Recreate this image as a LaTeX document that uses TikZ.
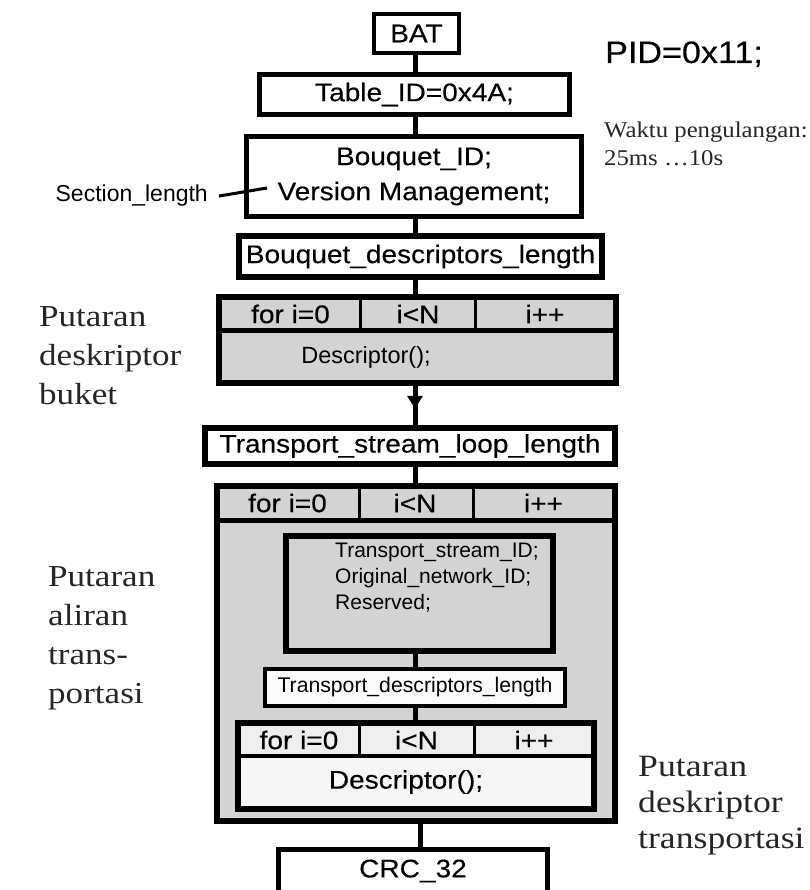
\documentclass[tikz,border=0pt]{standalone}
\usepackage{fontspec}
\usetikzlibrary{arrows.meta,decorations.markings}

% Arial-like faces (slightly widened) and Times-like faces for the notes
\newfontfamily\sanswide[FakeStretch=1.1,FakeBold=0.3]{Liberation Sans}
\newfontfamily\sansplain{Liberation Sans}
\newfontfamily\serifwide[FakeStretch=1.15]{Liberation Serif}
\newfontfamily\serifnote[FakeStretch=1.1]{Liberation Serif}

\definecolor{loopgray}{RGB}{211,211,211}
\definecolor{celllight}{RGB}{238,238,238}
\definecolor{rowlight}{RGB}{246,246,246}
\definecolor{boxlight}{RGB}{251,251,251}
\definecolor{notegray}{RGB}{38,38,38}

\begin{document}
\begin{tikzpicture}[x=1pt,y=-1pt,
  box/.style={draw=black, fill=white, inner sep=0pt, line width=#1},
  box/.default=5pt,
  frame/.style={draw=black, fill=loopgray, inner sep=0pt, outer sep=0pt, line width=#1},
  frame/.default=6pt,
  bigtext/.style={font=\sanswide\fontsize{25.5}{35}\selectfont},
  bodytext/.style={font=\sansplain\fontsize{23.5}{28}\selectfont},
  smalltext/.style={font=\sansplain\fontsize{21}{26}\selectfont},
  divider/.style={draw=black, line width=3pt},
  headsep/.style={draw=black, line width=5pt},
  link/.style={draw=black, line width=5pt},
  flowarrow/.style={postaction={decorate, decoration={markings,
      mark=at position 0.615 with {\arrow{Triangle[length=13pt,width=15pt]}}}}},
  sidenote/.style={font=\serifwide\fontsize{30.5}{39}\selectfont, text=notegray,
      align=left, inner sep=0pt, anchor=north west},
]
\useasboundingbox (0,0) rectangle (809,890);
\clip (0,0) rectangle (809,890);

\coordinate (spine) at (415,0);
\coordinate (crcspine) at (420,0);

% ---- header boxes ----
\node[box=4pt, minimum width=85pt, minimum height=39pt, bigtext] (bat) at (416.5,33.5) {BAT};
\node[box=5pt, minimum width=310pt, minimum height=40pt, bigtext] (tid) at (414.5,94.5) {Table\_ID=0x4A;};
\node[box=5pt, minimum width=335pt, minimum height=80pt, bigtext, align=center] (bqid) at (414,176.5)
  {Bouquet\_ID;\\Version Management;};
\node[box=6pt, minimum width=363pt, minimum height=41pt, bigtext] (bdl) at (420.5,256.5)
  {Bouquet\_descriptors\_length};

% ---- bouquet descriptor loop ----
\node[frame, minimum width=397pt, minimum height=86pt] (loopa) at (417.5,340) {};
\draw[headsep] (219,330.5) -- (616,330.5);
\draw[divider] (360.5,297) -- (360.5,330.5);
\draw[divider] (475.5,297) -- (475.5,330.5);
\node[bigtext] (la-init) at (290.5,314) {for i=0};
\node[bigtext] (la-cond) at (418,314) {i<N};
\node[bigtext] (la-step) at (545,314) {i++};
\node[bodytext] (la-body) at (366,357.5) {Descriptor();};

\node[box=6pt, minimum width=410pt, minimum height=36pt, bigtext] (tsll) at (410,446)
  {Transport\_stream\_loop\_length};

% ---- transport stream loop ----
\node[frame, minimum width=398pt, minimum height=335pt] (loopb) at (416,653.5) {};
\draw[headsep] (217,520.5) -- (615,520.5);
\draw[divider] (359,486) -- (359,520.5);
\draw[divider] (473.5,486) -- (473.5,520.5);
\node[bigtext] (lb-init) at (287.5,503) {for i=0};
\node[bigtext] (lb-cond) at (415,503) {i<N};
\node[bigtext] (lb-step) at (543.5,503) {i++};

\node[frame, minimum width=267pt, minimum height=115pt] (tsid) at (419.5,593.5) {};
\node[smalltext, align=left, anchor=north west, inner sep=0pt] (tsid-text) at (335,543)
  {Transport\_stream\_ID;\\Original\_network\_ID;\\Reserved;};

\node[box=4.5pt, fill=boxlight, minimum width=300pt, minimum height=37pt,
  font=\sansplain\fontsize{21.2}{26}\selectfont] (tdl) at (415,687.5) {Transport\_descriptors\_length};

% ---- transport descriptor loop ----
\node[frame=5.5pt, fill=rowlight, minimum width=356pt, minimum height=86pt] (loopc) at (416,766) {};
\fill[celllight] (240.75,725.75) rectangle (591.25,756);
\draw[draw=black, line width=4pt] (238,756) -- (594,756);
\draw[divider] (359,723) -- (359,756);
\draw[divider] (474,723) -- (474,756);
\node[bigtext] (lc-init) at (299,740) {for i=0};
\node[bigtext] (lc-cond) at (416.5,740) {i<N};
\node[bigtext] (lc-step) at (534,740) {i++};
\node[bigtext] (lc-body) at (406,782) {Descriptor();};

\node[box=5pt, minimum width=269pt, minimum height=43pt, bigtext] (crc) at (413,871) {CRC\_32};

% ---- connectors ----
\draw[link] (bat.south -| spine) -- (tid.north -| spine);
\draw[link] (tid.south -| spine) -- (bqid.north -| spine);
\draw[link] (bqid.south -| spine) -- (bdl.north -| spine);
\draw[link] (bdl.south -| spine) -- (loopa.north -| spine);
\draw[link, flowarrow] (loopa.south -| spine) -- (tsll.north -| spine);
\draw[link] (tsll.south -| spine) -- (loopb.north -| spine);
\draw[link] (tsid.south -| spine) -- (tdl.north -| spine);
\draw[link] (tdl.south -| spine) -- (loopc.north -| spine);
\draw[link] (loopb.south -| crcspine) -- (crc.north -| crcspine);

% ---- side labels ----
\node[font=\sansplain\fontsize{23}{28}\selectfont, anchor=base east, inner sep=0pt] (seclen) at (208,202)
  {Section\_length};
\coordinate (seclen-end) at (267,188);
\draw[line width=3pt] ([xshift=11pt]seclen.east) -- (seclen-end);

\node[font=\sanswide\fontsize{31}{36}\selectfont, anchor=base west, inner sep=0pt] (pid) at (605,63)
  {PID=0x11;};
\node[font=\serifnote\fontsize{22.5}{28.5}\selectfont, text=notegray, align=left, anchor=north west,
  inner sep=0pt] (rep) at (604,121.5) {Waktu pengulangan:\\25ms …10s};

\node[sidenote] (note-bouquet) at (39,306.8) {Putaran\\deskriptor\\buket};
\node[sidenote] (note-stream) at (48,566.8) {Putaran\\aliran\\trans-\\portasi};
\node[sidenote, font=\serifwide\fontsize{31}{36}\selectfont] (note-transport) at (638,755.5)
  {Putaran\\deskriptor\\transportasi};
\end{tikzpicture}
\end{document}
